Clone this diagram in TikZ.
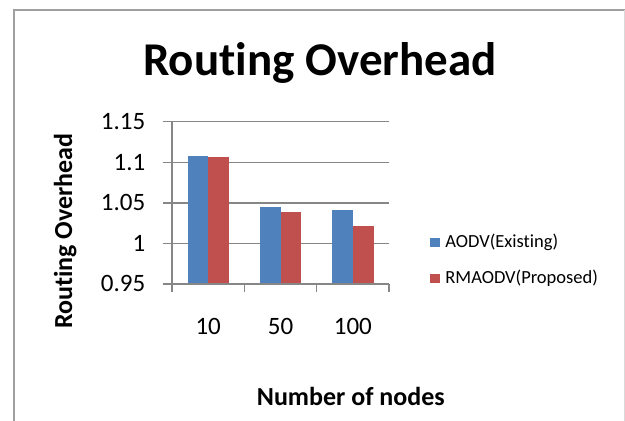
\documentclass[tikz,border=0pt]{standalone}
\usepackage{fontspec}
\setmainfont[RawFeature={-liga;-clig;-dlig;-calt}]{Carlito}
\usetikzlibrary{positioning,calc}
\definecolor{barblue}{HTML}{4F81BD}
\definecolor{barred}{HTML}{C0504D}
\definecolor{gridgray}{HTML}{868686}
\definecolor{framegray}{HTML}{A0A0A0}

\begin{document}
\begin{tikzpicture}[
      x=1pt, y=-1pt,
      grid/.style={draw=gridgray, line width=1.5pt},
      ticklab/.style={anchor=base east, inner sep=0pt, font=\fontsize{25}{30}\selectfont},
      catlab/.style={anchor=base, inner sep=0pt, font=\fontsize{25}{30}\selectfont},
      axtitle/.style={anchor=base, inner sep=0pt, font=\fontsize{26}{31}\selectfont\bfseries},
      keybox/.style={rectangle, inner sep=0pt, minimum width=10pt, minimum height=9pt},
      keylab/.style={inner sep=0pt, font=\fontsize{18.5}{22}\selectfont},
      aodv/.style={fill=barblue},
      rmaodv/.style={fill=barred}
    ]
      \useasboundingbox (0,0) rectangle (625,421);
      % chart area frame
      \draw[framegray, line width=2.5pt] (14,421) -- (14,10) -- (625,10);
      \draw[framegray!40, line width=0.6pt] (624,10) -- (624,421);

      \node[anchor=base, inner sep=0pt, font=\fontsize{47}{56}\selectfont\bfseries] (title) at (320,75) {Rout\kern0pt ing Overhead};

      % gridlines and value axis
      \draw[grid] (163,121.7) -- (389,121.7);
      \draw[grid] (163,162.3) -- (389,162.3);
      \draw[grid] (163,202.9) -- (389,202.9);
      \draw[grid] (163,243.4) -- (389,243.4);

      \node[ticklab] (t115) at (145.5,129.5) {1.15};
      \node[ticklab] (t110) at (145.5,170.1) {1.1};
      \node[ticklab] (t105) at (145.5,210.7) {1.05};
      \node[ticklab] (t100) at (145.5,251.2) {1};
      \node[ticklab] (t095) at (145.5,291.8) {0.95};

      % bars
      \fill[aodv] (187.7,284) rectangle (208.2,155.7);
      \fill[rmaodv] (208.2,284) rectangle (228.8,157.3);
      \fill[aodv] (260,284) rectangle (280.5,206.9);
      \fill[rmaodv] (280.5,284) rectangle (301.2,212.0);
      \fill[aodv] (332.4,284) rectangle (352.9,210.1);
      \fill[rmaodv] (352.9,284) rectangle (373.6,226.3);

      % axes
      \draw[grid] (172,121.7) -- (172,284);
      \draw[grid] (163,284) -- (389,284);
      \draw[grid] (172,284) -- (172,291.7);
      \draw[grid] (244.3,284) -- (244.3,291.7);
      \draw[grid] (316.6,284) -- (316.6,291.7);
      \draw[grid] (389,284) -- (389,291.7);

      \node[catlab] (c10) at (208.2,334) {10};
      \node[catlab] (c50) at (280.5,334) {50};
      \node[catlab] (c100) at (352.9,334) {100};

      \node[axtitle] (xtitle) at (350.8,405) {Number of nodes};
      \node[axtitle, rotate=90] (ytitle) at (72,231) {Rout\kern0pt ing Overhead};

      % legend
      \node[keybox, aodv] (keyA) at (435,242) {};
      \node[keylab, right=5pt of keyA] (labA) {AODV(Existing)};
      \node[keybox, rmaodv] (keyR) at (435,278) {};
      \node[keylab, right=5pt of keyR] (labR) {RMAODV(Proposed)};
    \end{tikzpicture}
\end{document}
